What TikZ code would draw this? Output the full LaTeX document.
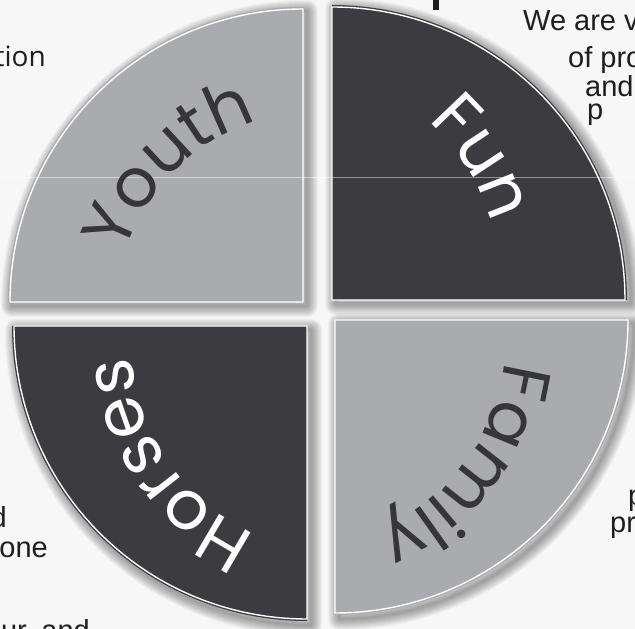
\documentclass[tikz,border=0pt]{standalone}
\usepackage{fontspec}
\setmainfont{Liberation Sans}
\newfontfamily\wordfont{Poppins}
\newfontfamily\tionfont{Open Sans}
\usetikzlibrary{decorations.text}
\definecolor{paper}{HTML}{F7F7F7}
\definecolor{lightq}{HTML}{A9ABAE}
\definecolor{darkq}{HTML}{3B3B40}
\definecolor{inkdark}{HTML}{36363A}
\definecolor{bodytext}{HTML}{1E1E1E}
\tikzset{
  every picture/.style={line join=round, line cap=round},
  quarter shadow/.style={draw=black, draw opacity=0.035, line width=#1},
  quarter edge/.style={draw=white, line width=1.4pt},
  word/.style={decorate, decoration={text along path, text align=center, text={#1}}},
  body/.style={font=\fontsize{29}{31}\selectfont, text=bodytext, inner sep=0pt},
}
\newcommand{\wordsize}{\wordfont\fontsize{68}{68}\selectfont}

\begin{document}
\begin{tikzpicture}[x=1pt,y=1pt]
\useasboundingbox (0,0) rectangle (635,629);
\fill[paper] (0,0) rectangle (635,629);
% four quarters, each with its own corner
\foreach \cx/\cy/\a/\col in {303/327/90/lightq, 332/329/0/darkq, 307/303/180/darkq, 335/309/270/lightq}{
  \foreach \w in {2,4,...,22}
    \draw[quarter shadow=\w pt] ([shift={(4,-4)}]\cx,\cy) -- ++(\a:295) arc[start angle=\a, end angle=\a+90, radius=295] -- cycle;
  \fill[\col] (\cx,\cy) -- ++(\a:295) arc[start angle=\a, end angle=\a+90, radius=295] -- cycle;
  \draw[quarter edge] (\cx,\cy) -- ++(\a:293) arc[start angle=\a, end angle=\a+90, radius=293] -- cycle;
}
% faint scan line
\draw[white, opacity=0.45, line width=0.7pt] (0,452) -- (635,452);
% words, clockwise round the middle
\path[word={|\wordsize\color{inkdark}|Youth}] ([shift={(195:205)}]320,313) arc[start angle=195, end angle=75, radius=205];
\path[word={|\wordsize\color{white}|Fun}] ([shift={(92:212)}]287,349) arc[start angle=92, end angle=-28, radius=212];
\path[word={|\wordsize\color{inkdark}|Family}] ([shift={(23:210)}]296,292) arc[start angle=23, end angle=-97, radius=210];
\path[word={|\wordsize\color{white}|Horses}] ([shift={(-85:212)}]343,288) arc[start angle=-85, end angle=-205, radius=212];
% cut-off text round the circle
\fill[bodytext] (433,619) rectangle (439,629);
\node[body, font=\tionfont\fontsize{28}{30}\selectfont, anchor=base east] (tion) at (46,562) {tion};
\node[body, anchor=base west] (weare) at (523,598) {We are v};
\node[body, anchor=base west] (ofpro) at (568,561) {of pro};
\node[body, anchor=base west] (and) at (585,532) {and};
\node[body, anchor=base west] (pa) at (587,509) {p};
\node[body, anchor=base west] (pb) at (628,123) {p};
\node[body, anchor=base west] (pr) at (610,96) {pr};
\node[body, anchor=base east] (d) at (7,101) {d};
\node[body, anchor=base east] (one) at (48,71) {one};
\node[body, anchor=base east] (urand) at (90,-12) {ur, and};
\end{tikzpicture}
\end{document}
